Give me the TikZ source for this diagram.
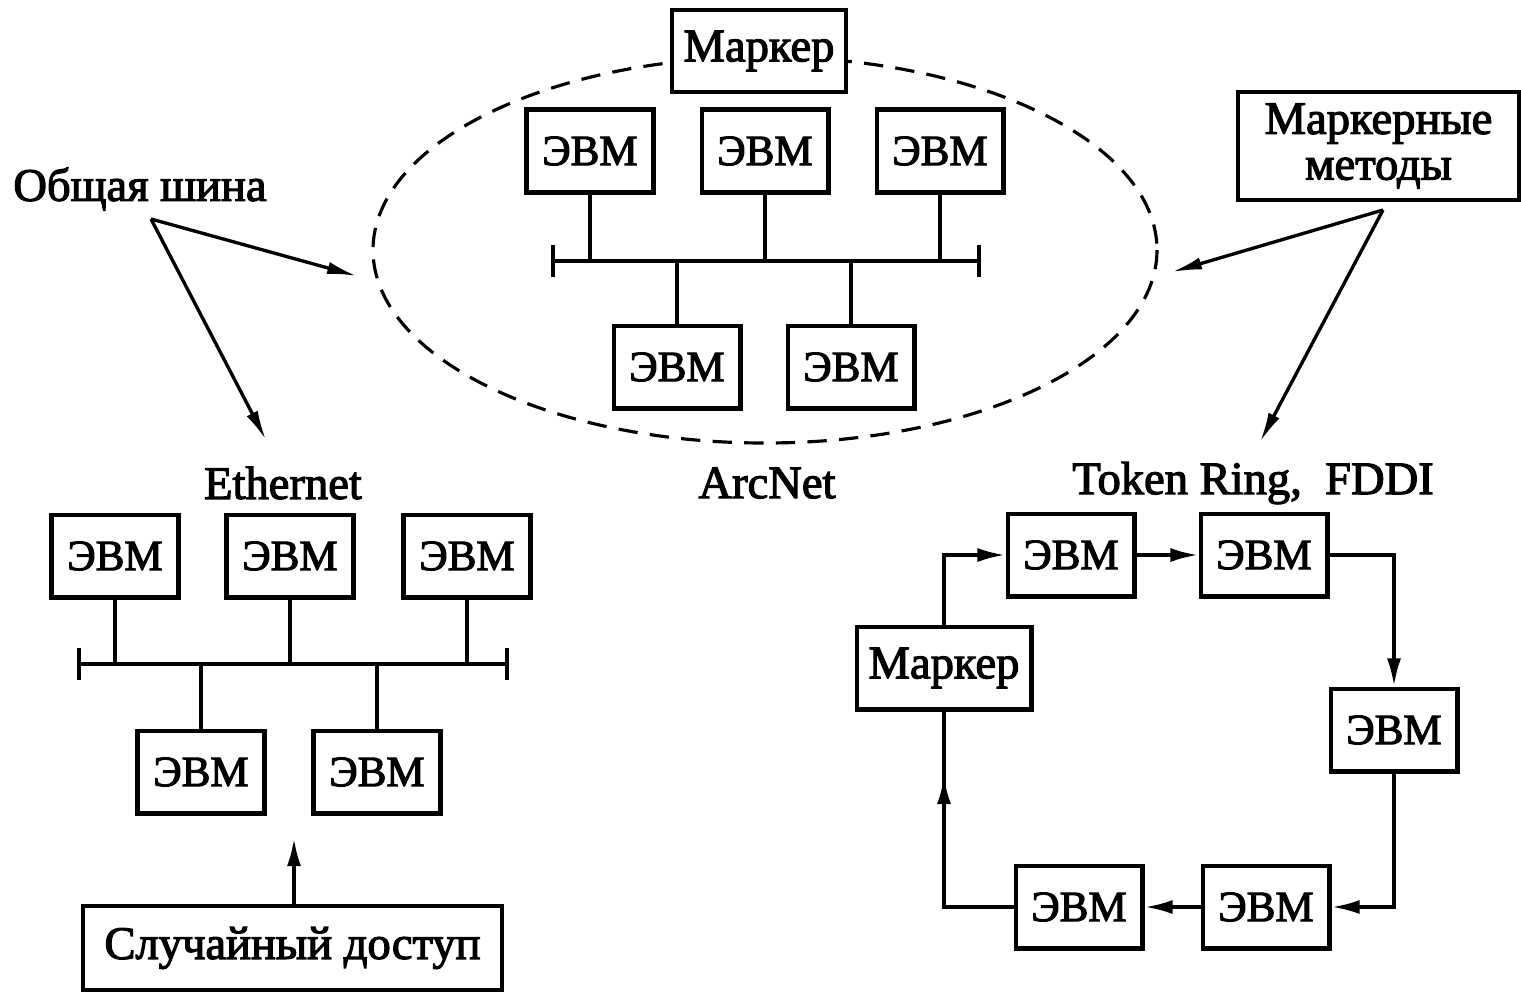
\documentclass[tikz,border=0pt]{standalone}
\usepackage{fontspec}
\setmainfont{Liberation Serif}
\newfontfamily\heavyserif{Liberation Serif}[FakeBold=2.5]
\usetikzlibrary{arrows.meta}

\begin{document}
\begin{tikzpicture}[x=0.02cm, y=-0.02cm,
  every node/.style={font=\heavyserif\fontsize{26.5}{28}\selectfont},
  box/.style={draw, line width=2.3pt, fill=white, inner sep=0pt},
  pc/.style={box, minimum width=2.54cm, minimum height=1.66cm, font=\heavyserif\fontsize{24.5}{26}\selectfont},
  wire/.style={line width=2.1pt},
  arr/.style={wire, -{Latex[length=16pt, width=8pt]}},
  pointer/.style={line width=1.9pt, -{Latex[length=17pt, width=7pt]}},
  bus/.style={wire, {Bar[width=18pt, line width=2.4pt]}-{Bar[width=18pt, line width=2.4pt]}},
  lbl/.style={inner sep=0pt}
]
\useasboundingbox (0,0) rectangle (1521,992);

% ---------- ArcNet ----------
\draw[line width=1.8pt, dash pattern=on 11pt off 7pt] (765,250) ellipse [x radius=392, y radius=193];
\node[box, minimum width=3.48cm, minimum height=1.64cm] (mk1) at (759,51) {Маркер};
\node[pc] (a1) at (590,151) {ЭВМ};
\node[pc] (a2) at (765,151) {ЭВМ};
\node[pc] (a3) at (940,151) {ЭВМ};
\node[pc] (a4) at (677,367) {ЭВМ};
\node[pc] (a5) at (851,367) {ЭВМ};
\coordinate (abL) at (551,261);
\coordinate (abR) at (981,261);
\draw[bus] (abL) -- (abR);
\foreach \n in {a1,a2,a3} \draw[wire] (\n.south) -- (\n.south |- abL);
\foreach \n in {a4,a5} \draw[wire] (\n.north) -- (\n.north |- abL);
\node[lbl] (arcnet) at (767,483) {ArcNet};

% ---------- Ethernet ----------
\node[lbl] (ethernet) at (283,483) {Ethernet};
\node[pc] (e1) at (115,556) {ЭВМ};
\node[pc] (e2) at (290,556) {ЭВМ};
\node[pc] (e3) at (467,556) {ЭВМ};
\node[pc] (e4) at (201,772) {ЭВМ};
\node[pc] (e5) at (377,772) {ЭВМ};
\coordinate (ebL) at (77,664);
\coordinate (ebR) at (509,664);
\draw[bus] (ebL) -- (ebR);
\foreach \n in {e1,e2,e3} \draw[wire] (\n.south) -- (\n.south |- ebL);
\foreach \n in {e4,e5} \draw[wire] (\n.north) -- (\n.north |- ebL);
\node[box, minimum width=8.38cm, minimum height=1.68cm] (rand) at (292.5,948) {Случайный доступ};
\coordinate (randTip) at (294,838);
\draw[arr] (rand.north -| randTip) -- (randTip);

% ---------- Common bus pointers ----------
\node[lbl] (common) at (140,189) {Общая шина};
\coordinate (cfrom) at (151,219);
\coordinate (cArc) at (357,276);
\coordinate (cEth) at (266,440);
\draw[pointer] (cfrom) -- (cArc);
\draw[pointer] (cfrom) -- (cEth);

% ---------- Token methods pointers ----------
\node[box, minimum width=5.62cm, minimum height=2.16cm, align=center] (tok) at (1378.5,146)
  {Маркерные\\[-2pt]методы};
\coordinate (tfrom) at (1383,210);
\coordinate (tArc) at (1172,272);
\coordinate (tRing) at (1260,442);
\draw[pointer] (tfrom) -- (tArc);
\draw[pointer] (tfrom) -- (tRing);

% ---------- Token Ring / FDDI ----------
\node[lbl] (tr) at (1253,483) {Token Ring,\ \ FDDI};
\node[pc] (r1) at (1071,555) {ЭВМ};
\node[pc] (r2) at (1264,555) {ЭВМ};
\node[pc] (r3) at (1394,730) {ЭВМ};
\node[pc] (r4) at (1266,907) {ЭВМ};
\node[pc] (r5) at (1079,907) {ЭВМ};
\node[box, minimum width=3.5cm, minimum height=1.66cm] (mk2) at (944,668) {Маркер};
\coordinate (ringTip) at (944,776);
\coordinate (ringBase) at (944,820);
\draw[arr] (mk2.north) |- (r1.west);
\draw[arr] (r1) -- (r2);
\draw[arr] (r2.east) -| (r3.north);
\draw[arr] (r3.south) |- (r4.east);
\draw[arr] (r4) -- (r5);
\draw[wire] (r5.west) -| (mk2.south);
\draw[arr] (ringBase) -- (ringTip);
\end{tikzpicture}
\end{document}
